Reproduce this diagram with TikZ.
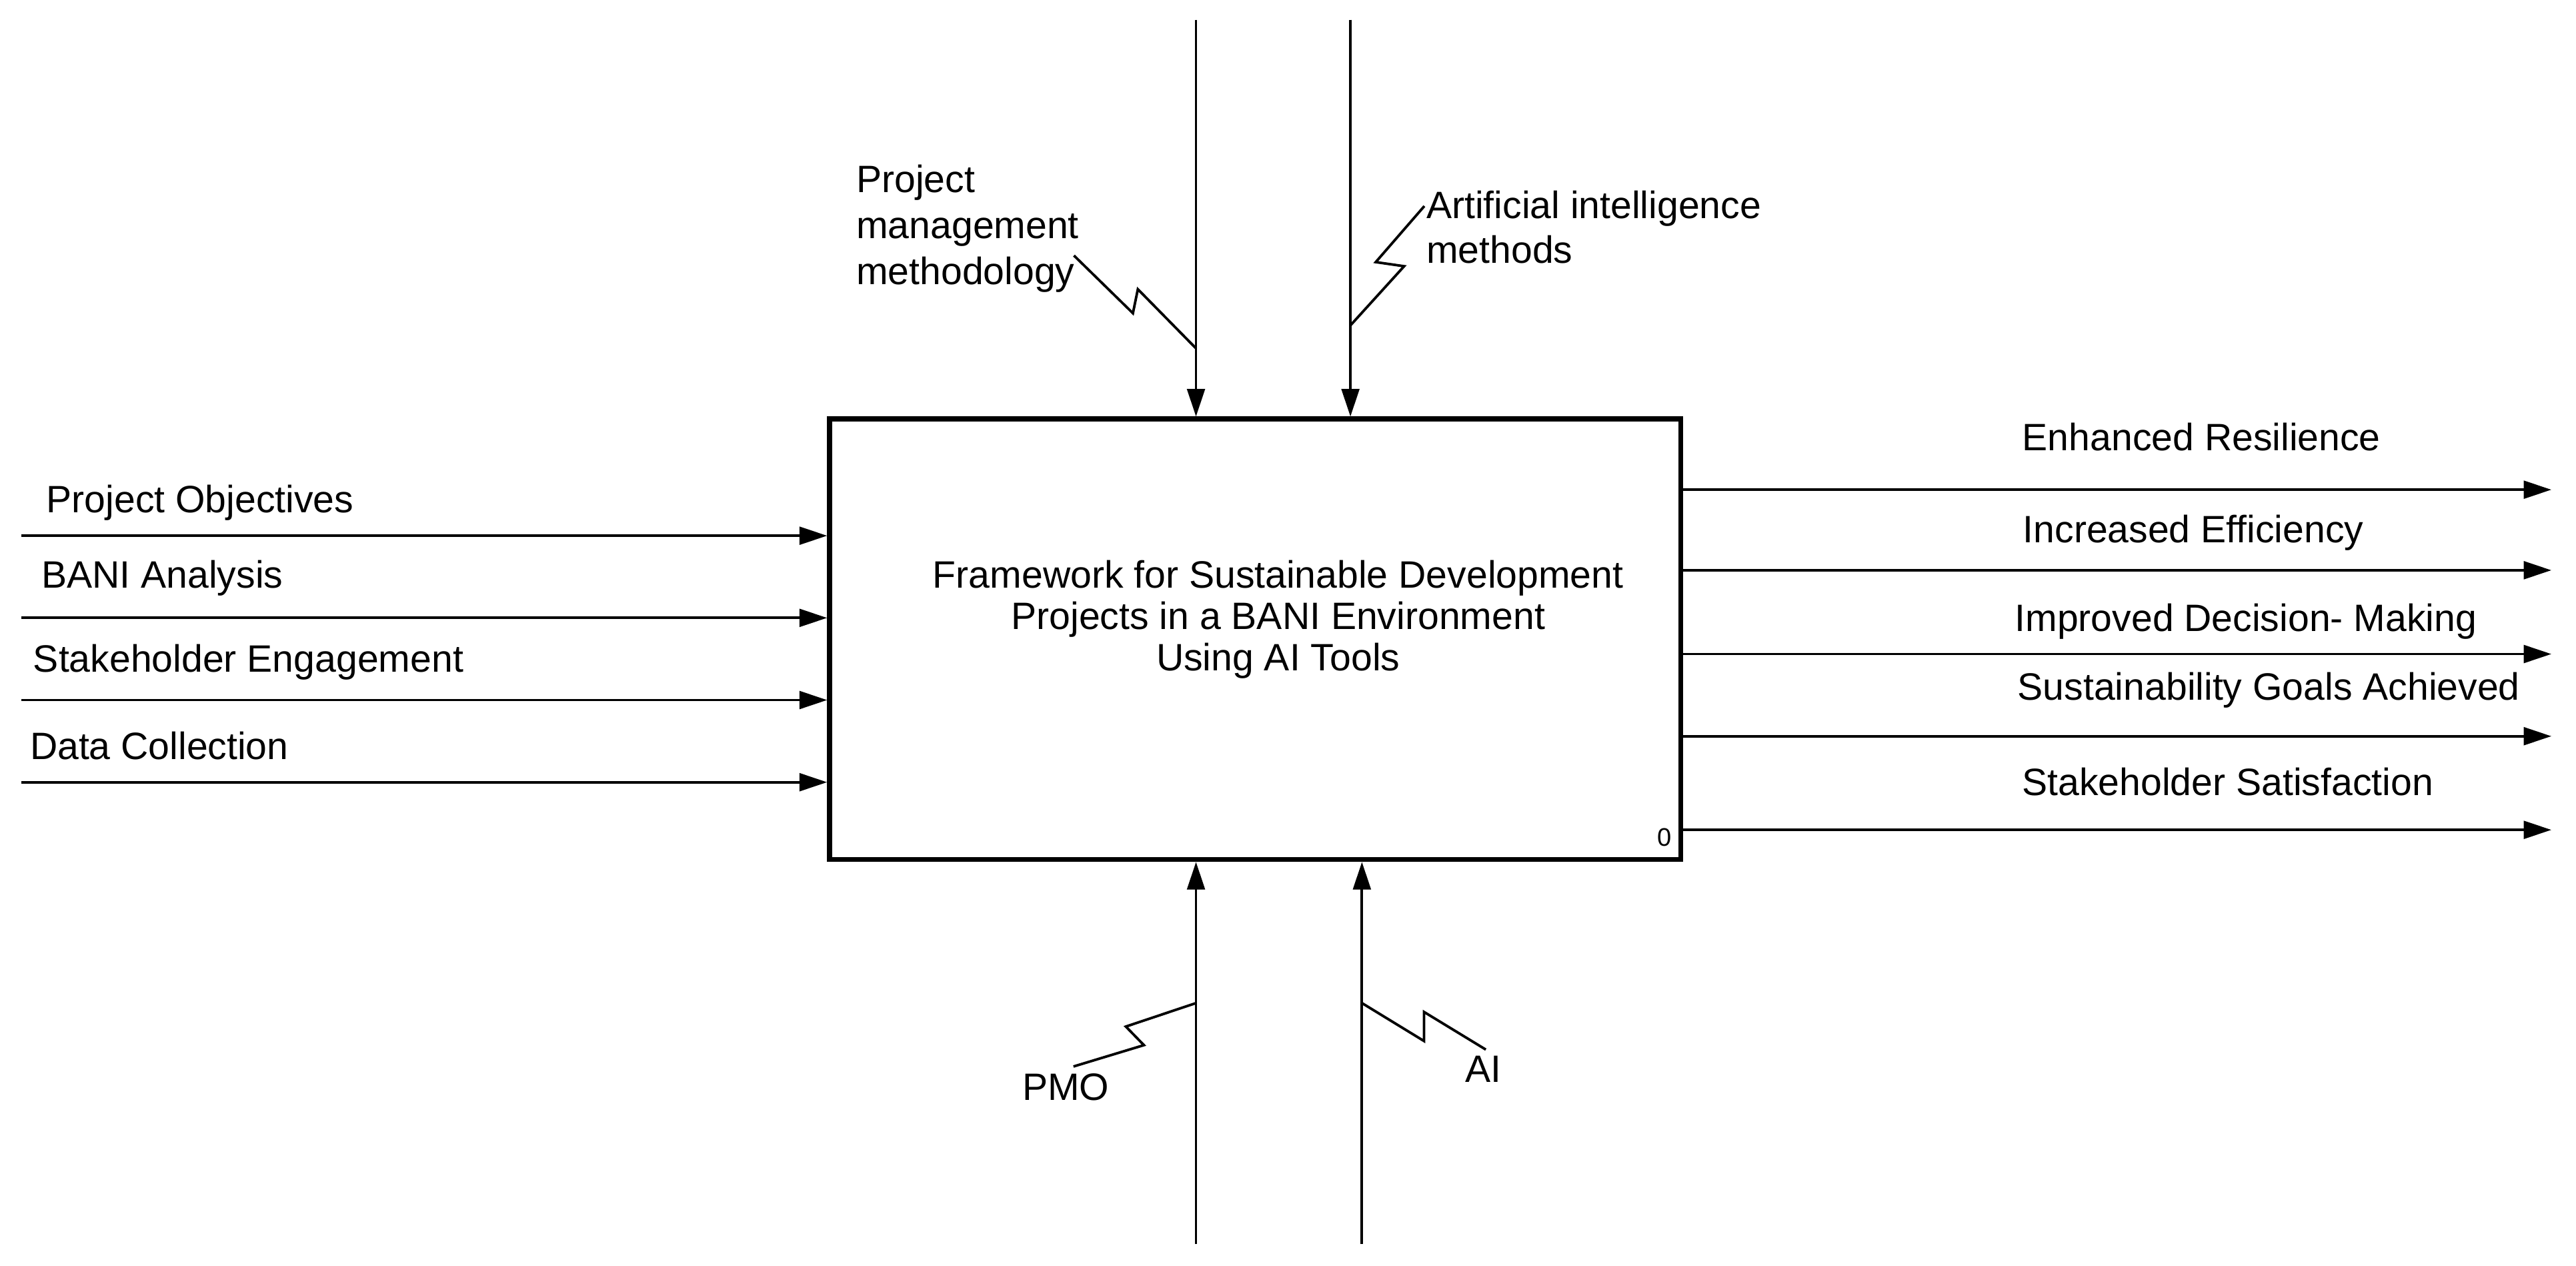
\documentclass[tikz,border=0pt]{standalone}
\usepackage{fontspec}
\setmainfont{Liberation Sans}
\usetikzlibrary{arrows.meta}
\usetikzlibrary{positioning}

\begin{document}
\begin{tikzpicture}[
	x=0.025cm, y=-0.025cm,
	flow/.style={line width=1.1pt,-{Triangle[length=0.42cm,width=0.27cm]}},
	squig/.style={line width=1.1pt},
	lbl/.style={inner sep=0pt,font=\fontsize{16.5}{19}\selectfont},
	lblL/.style={lbl,anchor=base west},
	lblC/.style={lbl,anchor=base}
]

	% frame
	\useasboundingbox (0,0) rectangle (1568,770);

	% function box
	\node[draw,line width=2.2pt,minimum width=518*0.025cm,minimum height=268*0.025cm,
		inner sep=0pt] (fn) at (764,389) {};
	\node[lbl,align=center,font=\fontsize{16.5}{17.8}\selectfont] (title) at (778,377)
		{Framework for Sustainable Development\\Projects in a BANI Environment\\Using AI Tools};
	\node[inner sep=0pt,anchor=base,font=\fontsize{11}{13}\selectfont] (num) at (1013,515) {0};

	% inputs
	\foreach \y/\t [count=\i] in {326/Project Objectives,376/BANI Analysis,
		426/Stakeholder Engagement,476/Data Collection}{
		\coordinate (in\i) at (13,\y);
		\draw[flow] (in\i) -- (fn.west |- in\i);
	}
	\node[lblL] (inA) at (28,312) {Project Objectives};
	\node[lblL] (inB) at (25,358) {BANI Analysis};
	\node[lblL] (inC) at (20,409) {Stakeholder Engagement};
	\node[lblL] (inD) at (18,462) {Data Collection};

	% outputs
	\foreach \y [count=\i] in {298,347,398,448,505}{
		\coordinate (out\i) at (1553,\y);
		\draw[flow] (fn.east |- out\i) -- (out\i);
	}
	\node[lblC] (outA) at (1340,274) {Enhanced Resilience};
	\node[lblC] (outB) at (1335,330) {Increased Efficiency};
	\node[lblC] (outC) at (1367,384) {Improved Decision- Making};
	\node[lblC] (outD) at (1381,426) {Sustainability Goals Achieved};
	\node[lblC] (outE) at (1356,484) {Stakeholder Satisfaction};

	% controls
	\coordinate (ctl1) at (728,12);
	\coordinate (ctl2) at (822,12);
	\draw[flow] (ctl1) -- (ctl1 |- fn.north);
	\draw[flow] (ctl2) -- (ctl2 |- fn.north);
	\node[lblL,align=left,font=\fontsize{16.5}{19.9}\selectfont,anchor=north west] (pmm) at (521,100)
		{Project\\management\\methodology};
	\node[lblL,align=left,font=\fontsize{16.5}{19.2}\selectfont,anchor=north west] (aim) at (868,116)
		{Artificial intelligence\\methods};
	\draw[squig] (728,212) -- (692.6,176) -- (689.6,190.6) -- (653.7,155.5);
	\draw[squig] (822,198) -- (854.7,162) -- (837.4,159.5) -- (867,125.4);

	% mechanisms
	\coordinate (mec1) at (728,757);
	\coordinate (mec2) at (829,757);
	\draw[flow] (mec1) -- (mec1 |- fn.south);
	\draw[flow] (mec2) -- (mec2 |- fn.south);
	\node[lblL] (pmo) at (622,669.6) {PMO};
	\node[lblL] (ai) at (891.7,658.7) {AI};
	\draw[squig] (728,610.4) -- (685.3,624.7) -- (696.3,636) -- (653.4,649);
	\draw[squig] (829,610.4) -- (866.8,633.5) -- (866.8,615.8) -- (904.4,638.7);

\end{tikzpicture}
\end{document}
